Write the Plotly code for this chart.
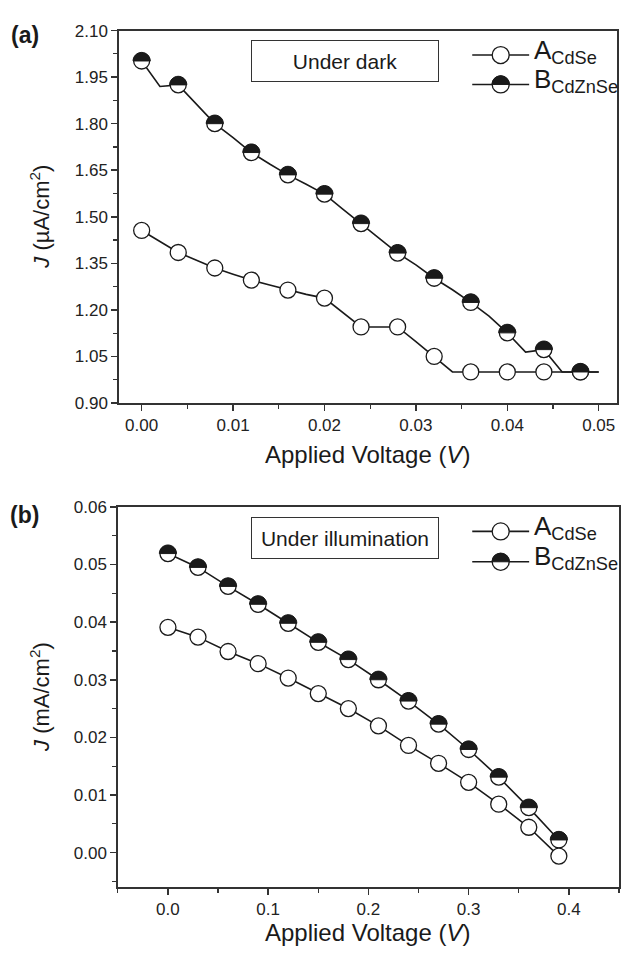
import plotly.graph_objects as go

# ---------------- data ----------------
# (a) under dark: applied voltage (V) and J (uA/cm2)
v_dark = [0.000, 0.002, 0.004, 0.006, 0.008, 0.010, 0.012, 0.014, 0.016, 0.018,
          0.020, 0.022, 0.024, 0.026, 0.028, 0.030, 0.032, 0.034, 0.036, 0.038,
          0.040, 0.042, 0.044, 0.046, 0.048, 0.050]
ja_dark = [1.456, 1.420, 1.385, 1.360, 1.335, 1.315, 1.296, 1.280, 1.264, 1.250,
           1.238, 1.190, 1.145, 1.145, 1.145, 1.098, 1.050, 1.000, 1.000, 1.000,
           1.000, 1.000, 1.000, 1.000, 1.000, 1.000]
jb_dark = [2.002, 1.920, 1.925, 1.862, 1.800, 1.755, 1.707, 1.670, 1.635, 1.605,
           1.573, 1.525, 1.478, 1.430, 1.383, 1.345, 1.302, 1.265, 1.224, 1.180,
           1.126, 1.064, 1.072, 1.000, 1.000, 1.000]

# (b) under illumination: applied voltage (V) and J (mA/cm2)
v_light = [0.00, 0.03, 0.06, 0.09, 0.12, 0.15, 0.18, 0.21, 0.24, 0.27, 0.30, 0.33, 0.36, 0.39]
ja_light = [0.0391, 0.0374, 0.0349, 0.0328, 0.0303, 0.0276, 0.0250, 0.0220, 0.0186,
            0.0155, 0.0122, 0.0084, 0.0044, -0.0006]
jb_light = [0.0519, 0.0495, 0.0462, 0.0431, 0.0398, 0.0365, 0.0335, 0.0300, 0.0263,
            0.0223, 0.0179, 0.0131, 0.0078, 0.0022]

name_a = "A<sub>CdSe</sub>"
name_b = "B<sub>CdZnSe</sub>"
ticks_a_y = [0.90, 1.05, 1.20, 1.35, 1.50, 1.65, 1.80, 1.95, 2.10]
ticks_b_y = [0.00, 0.01, 0.02, 0.03, 0.04, 0.05, 0.06]

# ---------------- style ----------------
W, H = 621, 956
FONT = "Liberation Sans, Arial, sans-serif"
INK = "#1a1a1a"
AX = "#333333"
MS = 16      # marker diameter (px)
R = 8.6      # half-disc radius (px)


def px(x):
    return x / W


def py(y):
    return 1 - y / H


def half_top(r):
    k = 0.5523 * r
    return (f"M {-r} 0 C {-r} {k} {-k} {r} 0 {r} "
            f"C {k} {r} {r} {k} {r} 0 Z")


fig = go.Figure()
shapes = []
annotations = []

panels = [
    dict(x=v_dark, a=ja_dark, b=jb_dark, xa="x", ya="y", step=2),
    dict(x=v_light, a=ja_light, b=jb_light, xa="x2", ya="y2", step=1),
]

for p in panels:
    s = p["step"]
    for yy in (p["a"], p["b"]):
        fig.add_trace(go.Scatter(x=p["x"], y=yy, mode="lines", xaxis=p["xa"], yaxis=p["ya"],
                                 line=dict(color=INK, width=1.6), showlegend=False,
                                 hoverinfo="skip"))
    for yy in (p["b"], p["a"]):
        fig.add_trace(go.Scatter(x=p["x"][::s], y=yy[::s], mode="markers",
                                 xaxis=p["xa"], yaxis=p["ya"], showlegend=False,
                                 marker=dict(symbol="circle", size=MS, color="white",
                                             line=dict(color=INK, width=1.3))))
    for xv, yv in zip(p["x"][::s], p["b"][::s]):
        shapes.append(dict(type="path", xref=p["xa"], yref=p["ya"],
                           xsizemode="pixel", ysizemode="pixel",
                           xanchor=xv, yanchor=yv, path=half_top(R),
                           fillcolor=INK, line=dict(color=INK, width=1), layer="above"))

# ---------- manual legends, boxes, labels ----------
legend_rows = [
    (47, 77, "Under dark", 53, "(a)", 27),
    (533, 564, "Under illumination", 540, "(b)", 516),
]
for ya_px, yb_px, boxtxt, box_y, lab, lab_y in legend_rows:
    for row, txt, half in ((ya_px, name_a, False), (yb_px, name_b, True)):
        shapes.append(dict(type="line", xref="paper", yref="paper",
                           x0=px(473), x1=px(530), y0=py(row), y1=py(row),
                           line=dict(color=INK, width=1.6)))
        shapes.append(dict(type="circle", xref="paper", yref="paper",
                           xsizemode="pixel", ysizemode="pixel",
                           xanchor=px(501.5), yanchor=py(row),
                           x0=-8.5, x1=8.5, y0=-8.5, y1=8.5,
                           fillcolor="white", line=dict(color=INK, width=1.3)))
        if half:
            shapes.append(dict(type="path", xref="paper", yref="paper",
                               xsizemode="pixel", ysizemode="pixel",
                               xanchor=px(501.5), yanchor=py(row), path=half_top(R),
                               fillcolor=INK, line=dict(color=INK, width=1)))
        annotations.append(dict(x=px(533), y=py(row), xref="paper", yref="paper",
                                xanchor="left", yanchor="middle", yshift=4,
                                text=txt, showarrow=False,
                                font=dict(family=FONT, size=26, color=INK)))
    annotations.append(dict(x=px(346), y=py(box_y), xref="paper", yref="paper",
                            xanchor="center", yanchor="middle", text=boxtxt,
                            showarrow=False, width=184, height=38, borderpad=1,
                            bordercolor=AX, borderwidth=1, bgcolor="white",
                            font=dict(family=FONT, size=21, color=INK)))
    annotations.append(dict(x=px(25), y=py(lab_y), xref="paper", yref="paper",
                            xanchor="center", yanchor="middle", text=f"<b>{lab}</b>",
                            showarrow=False, font=dict(family=FONT, size=23, color=INK)))

# axis titles
for ytxt, yc, xc_y in (("<i>J</i> (µA/cm<sup>2</sup>)", 212, 455),
                       ("<i>J</i> (mA/cm<sup>2</sup>)", 702, 942)):
    annotations.append(dict(x=px(40), y=py(yc), xref="paper", yref="paper",
                            xanchor="center", yanchor="middle", textangle=-90,
                            text=ytxt, showarrow=False,
                            font=dict(family=FONT, size=22, color=INK)))
    annotations.append(dict(x=px(368), y=py(xc_y), xref="paper", yref="paper",
                            xanchor="center", yanchor="middle",
                            text="Applied Voltage (<i>V</i>)", showarrow=False,
                            font=dict(family=FONT, size=24, color=INK)))

axis_common = dict(showline=True, linecolor=AX, linewidth=1.5, mirror=True,
                   ticks="outside", ticklen=6, tickwidth=1.5, tickcolor=AX,
                   showgrid=False, zeroline=False,
                   tickfont=dict(family=FONT, size=17, color="#222222"))

fig.update_layout(
    width=W, height=H, margin=dict(l=0, r=0, t=0, b=0),
    paper_bgcolor="white", plot_bgcolor="white", showlegend=False,
    hovermode=False,
    xaxis=dict(axis_common, domain=[px(119), px(618)], anchor="y",
               range=[-0.0025, 0.052], tick0=0, dtick=0.01, tickformat=".2f",
               minor=dict(ticks="outside", ticklen=4, tickwidth=1.2, tickcolor=AX,
                          tick0=0, dtick=0.005)),
    yaxis=dict(axis_common, domain=[py(402), py(22)], anchor="x",
               range=[0.90, 2.10], tickvals=ticks_a_y, tickformat=".2f",
               minor=dict(ticks="outside", ticklen=4, tickwidth=1.2, tickcolor=AX,
                          tick0=0.975, dtick=0.15)),
    xaxis2=dict(axis_common, domain=[px(118), px(620)], anchor="y2",
                range=[-0.05, 0.45], tick0=0, dtick=0.1, tickformat=".1f",
                minor=dict(ticks="outside", ticklen=4, tickwidth=1.2, tickcolor=AX,
                           tick0=0, dtick=0.05)),
    yaxis2=dict(axis_common, domain=[py(896), py(508)], anchor="x2",
                range=[-0.006, 0.06], tickvals=ticks_b_y, tickformat=".2f",
                minor=dict(ticks="outside", ticklen=4, tickwidth=1.2, tickcolor=AX,
                           tick0=0.005, dtick=0.01)),
    shapes=shapes, annotations=annotations,
)

fig.write_html(
    "out.html",
    config={"displayModeBar": False, "staticPlot": True},
    post_script=("document.body.style.margin='0';document.body.style.padding='0';"
                 "document.body.style.overflow='hidden';"),
)
